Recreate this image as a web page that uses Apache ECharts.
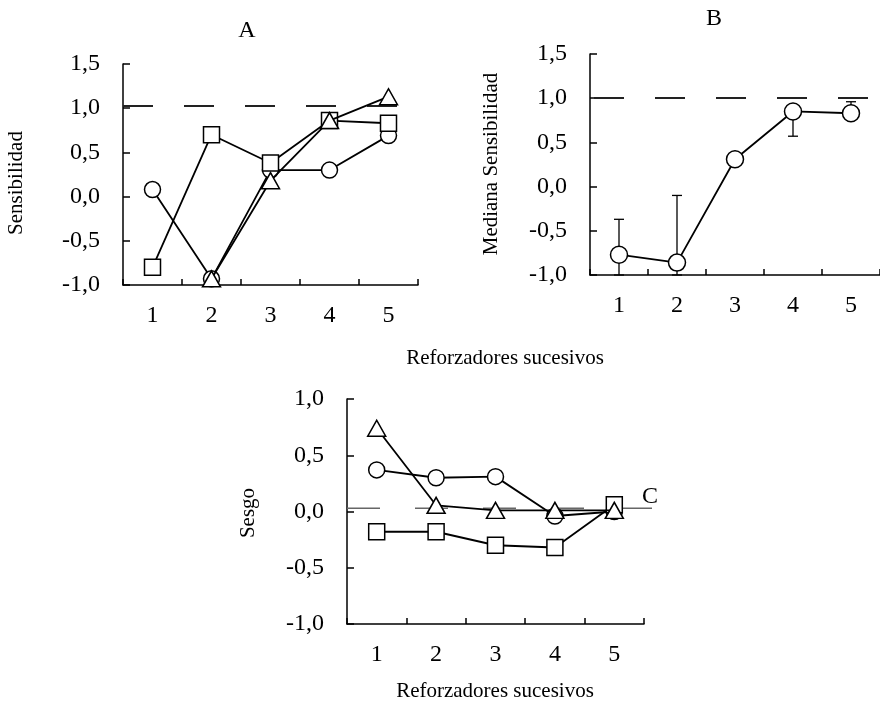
<!DOCTYPE html>
<html><head><meta charset="utf-8">
<script src="https://cdn.jsdelivr.net/npm/echarts@6/dist/echarts.min.js"></script>
<style>html,body{margin:0;padding:0;background:#fff}#c{width:880px;height:702px}</style>
</head><body><div id="c"></div>
<script>
// ---- data ----
const categories = ['1', '2', '3', '4', '5'];
// Panel A: Sensibilidad
const aCircle = [0.08, -0.93, 0.30, 0.30, 0.69];
const aSquare = [-0.80, 0.70, 0.38, 0.86, 0.83];
const aTriangle = [null, -0.93, 0.18, 0.86, 1.13];
const aReference = 1.03;
// Panel B: Mediana Sensibilidad
const bMedian = [-0.77, -0.86, 0.31, 0.85, 0.83];
const bErrLow = [-1.0, -1.0, 0.31, 0.57, 0.75];
const bErrHigh = [-0.37, -0.10, 0.31, 0.85, 0.96];
const bReference = 1.01;
// Panel C: Sesgo
const cCircle = [0.37, 0.30, 0.31, -0.04, 0.0];
const cSquare = [-0.18, -0.18, -0.30, -0.32, 0.06];
const cTriangle = [0.74, 0.055, 0.01, 0.01, 0.01];
const cReference = 0.03;
// axis ranges / ticks
const sensRange = { min: -1.0, max: 1.5, interval: 0.5 };
const sesgoRange = { min: -1.0, max: 1.0, interval: 0.5 };
const titles = { a: 'A', b: 'B', c: 'C' };
const xName = 'Reforzadores sucesivos';
const yNames = { a: 'Sensibilidad', b: 'Mediana Sensibilidad', c: 'Sesgo' };

// ---- styling ----
const FONT = '"Liberation Serif", "Times New Roman", serif';
const fmt = v => (Math.abs(v) < 1e-9 ? 0 : v).toFixed(1).replace('.', ',');

function xAxisFor(gridIndex) {
  return {
    type: 'category', gridIndex, data: categories, boundaryGap: true,
    axisLine: { show: true, onZero: false, lineStyle: { color: '#000', width: 1.5 } },
    axisTick: { show: true, inside: true, length: 6, interval: 0, alignWithLabel: false,
      lineStyle: { color: '#000', width: 1.5 } },
    axisLabel: { margin: 19, color: '#000', fontSize: 24, fontFamily: FONT, interval: 0 },
    splitLine: { show: false }
  };
}
function yAxisFor(gridIndex, range) {
  return {
    type: 'value', gridIndex, min: range.min, max: range.max, interval: range.interval,
    axisLine: { show: true, onZero: false, lineStyle: { color: '#000', width: 1.5 } },
    axisTick: { show: true, inside: true, length: 7, lineStyle: { color: '#000', width: 1.5 } },
    axisLabel: { margin: 23, color: '#000', fontSize: 24, fontFamily: FONT, formatter: fmt },
    splitLine: { show: false }
  };
}
const symStyle = { color: '#fff', borderColor: '#000', borderWidth: 1.5 };
const lineStyle = { color: '#000', width: 1.8 };
function lineSeries(axisIdx, data, symbol, size, z) {
  return {
    type: 'line', xAxisIndex: axisIdx, yAxisIndex: axisIdx, data,
    symbol, symbolSize: size, showSymbol: true, connectNulls: false,
    itemStyle: symStyle, lineStyle, z: z, silent: true
  };
}
function refLine(value, dash, offset, color, width) {
  return {
    silent: true, symbol: 'none', label: { show: false },
    lineStyle: { type: dash, dashOffset: offset, color, width },
    data: [{ yAxis: value }]
  };
}

const chart = echarts.init(document.getElementById('c'), null, { renderer: 'canvas' });

const sA_circle = lineSeries(0, aCircle, 'circle', 16, 3);
sA_circle.markLine = refLine(aReference, [30, 31], 0, '#222', 2);
const sB = lineSeries(1, bMedian, 'circle', 17, 3);
sB.markLine = refLine(bReference, [30, 31], -4, '#222', 2);

const errSeries = {
  type: 'custom', xAxisIndex: 1, yAxisIndex: 1, z: 1, silent: true,
  data: categories.map((c, i) => [i, bErrLow[i], bErrHigh[i]]),
  renderItem(params, api) {
    const x = api.value(0);
    const lo = api.coord([x, api.value(1)]);
    const hi = api.coord([x, api.value(2)]);
    const w = 5;
    const style = { stroke: '#000', lineWidth: 1.3 };
    return {
      type: 'group', children: [
        { type: 'line', shape: { x1: lo[0], y1: lo[1], x2: hi[0], y2: hi[1] }, style },
        { type: 'line', shape: { x1: hi[0] - w, y1: hi[1], x2: hi[0] + w, y2: hi[1] }, style },
        { type: 'line', shape: { x1: lo[0] - w, y1: lo[1], x2: lo[0] + w, y2: lo[1] }, style }
      ]
    };
  }
};

const cRefSeries = {
  type: 'line', xAxisIndex: 3, yAxisIndex: 3, z: 1, silent: true, symbol: 'none',
  data: [[0, cReference], [1, cReference]],
  lineStyle: { color: '#666', width: 1.5, type: [33, 35] }
};

function textEl(text, x, y, rotate, size) {
  return {
    type: 'text', x, y, rotation: rotate ? Math.PI / 2 : 0, silent: true,
    style: { text, fill: '#000', font: (size || 21) + 'px ' + FONT, align: 'center', verticalAlign: 'middle' }
  };
}

chart.setOption({
  animation: false,
  backgroundColor: '#fff',
  grid: [
    { left: 123, top: 64, width: 295, height: 221 },
    { left: 590, top: 54, width: 295, height: 221 },
    { left: 347, top: 399, width: 297, height: 225 },
    { left: 347, top: 399, width: 310, height: 225 }
  ],
  xAxis: [xAxisFor(0), xAxisFor(1), xAxisFor(2),
    { type: 'value', gridIndex: 3, min: 0, max: 1, show: false }],
  yAxis: [yAxisFor(0, sensRange), yAxisFor(1, sensRange), yAxisFor(2, sesgoRange),
    { type: 'value', gridIndex: 3, min: sesgoRange.min, max: sesgoRange.max, show: false }],
  series: [
    sA_circle,
    lineSeries(0, aSquare, 'rect', 16, 4),
    lineSeries(0, aTriangle, 'triangle', [18, 16], 5),
    errSeries,
    sB,
    cRefSeries,
    lineSeries(2, cCircle, 'circle', 16, 3),
    lineSeries(2, cSquare, 'rect', 16, 4),
    lineSeries(2, cTriangle, 'triangle', [18, 16], 5)
  ],
  graphic: [
    textEl(titles.a, 247, 31, false, 24),
    textEl(titles.b, 714, 19, false, 24),
    textEl(titles.c, 650, 497, false, 24),
    textEl(yNames.a, 16, 183, true),
    textEl(yNames.b, 491, 164, true),
    textEl(yNames.c, 248, 513, true),
    textEl(xName, 505, 358),
    textEl(xName, 495, 691)
  ]
});
</script>
</body></html>
